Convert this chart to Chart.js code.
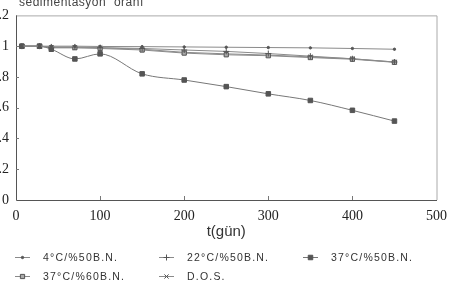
<!DOCTYPE html>
<html>
<head>
<meta charset="utf-8">
<script src="https://cdn.jsdelivr.net/npm/chart.js@4/dist/chart.umd.min.js"></script>
<style>
html, body { margin: 0; padding: 0; background: #fff; overflow: hidden; }
#wrap { position: absolute; left: -10px; top: 0; width: 465px; height: 285px; }
</style>
</head>
<body>
<div id="wrap"><canvas id="c" width="465" height="285"></canvas></div>
<script>
// days of measurement
var days = [7, 28, 42, 70, 100, 150, 200, 250, 300, 350, 400, 450];

// sedimentation ratio per sample
var c4_50  = [1.0, 1.0, 1.0, 1.0, 0.998, 0.997, 0.995, 0.993, 0.991, 0.989, 0.985, 0.98];
var c22_50 = [1.0, 1.0, 0.995, 0.995, 0.99, 0.985, 0.975, 0.966, 0.952, 0.935, 0.918, 0.897];
var c37_50 = [1.0, 1.0, 0.98, 0.917, 0.95, 0.82, 0.78, 0.737, 0.69, 0.647, 0.583, 0.513];
var c37_60 = [1.0, 1.0, 0.99, 0.99, 0.985, 0.975, 0.955, 0.944, 0.938, 0.926, 0.915, 0.895];
var dos    = [1.0, 1.0, 0.99, 0.99, 0.99, 0.98, 0.96, 0.95, 0.942, 0.93, 0.918, 0.897];

var yTicks = [0, 0.2, 0.4, 0.6, 0.8, 1, 1.2];
var xTicks = [0, 100, 200, 300, 400, 500];

function pts(vals) {
    return days.map(function(d, i) { return { x: d, y: vals[i] }; });
}

function series(label, vals, style) {
    return Object.assign({
        label: label,
        data: pts(vals),
        borderColor: '#8a8a8a',
        borderWidth: 1,
        backgroundColor: '#555',
        pointBorderColor: '#555',
        pointBorderWidth: 1,
        tension: 0
    }, style);
}

var datasets = [
    series('4°C/%50B.N.', c4_50, { pointStyle: 'circle', pointRadius: 1.2 }),
    series('22°C/%50B.N.', c22_50, { pointStyle: 'cross', pointRadius: 3 }),
    series('37°C/%50B.N.', c37_50, { pointStyle: 'rect', pointRadius: 3.2, borderColor: '#777',
        cubicInterpolationMode: 'monotone' }),
    series('37°C/%60B.N.', c37_60, { pointStyle: 'rect', pointRadius: 3, backgroundColor: '#aaa' }),
    series('D.O.S.', dos, { pointStyle: 'crossRot', pointRadius: 3 })
];

// frame, inward ticks, top label
var decor = {
    id: 'decor',
    beforeDatasetsDraw: function(chart) {
        var ctx = chart.ctx, a = chart.chartArea;
        var xs = chart.scales.x, ys = chart.scales.y;
        ctx.save();
        ctx.lineWidth = 1;
        ctx.strokeStyle = '#aaa';
        ctx.beginPath();
        ctx.moveTo(a.left, a.top + 0.5); ctx.lineTo(a.right + 0.5, a.top + 0.5);
        ctx.lineTo(a.right + 0.5, a.bottom);
        ctx.stroke();
        ctx.strokeStyle = '#555';
        ctx.beginPath();
        ctx.moveTo(a.left + 0.5, a.top); ctx.lineTo(a.left + 0.5, a.bottom + 0.5);
        ctx.lineTo(a.right + 0.5, a.bottom + 0.5);
        ctx.stroke();
        ctx.strokeStyle = '#777';
        ctx.beginPath();
        xTicks.slice(1, -1).forEach(function(v) {
            var px = Math.round(xs.getPixelForValue(v)) + 0.5;
            ctx.moveTo(px, a.bottom); ctx.lineTo(px, a.bottom - 4);
        });
        yTicks.slice(1, -1).forEach(function(v) {
            var py = Math.round(ys.getPixelForValue(v)) + 0.5;
            ctx.moveTo(a.left, py); ctx.lineTo(a.left + 3, py);
        });
        ctx.stroke();
        ctx.fillStyle = '#444';
        ctx.font = '12px "Liberation Sans", Arial, sans-serif';
        ctx.letterSpacing = '0.5px';
        ctx.textBaseline = 'alphabetic';
        ctx.fillText('sedimentasyon  oranı', 29, 6);
        ctx.restore();
    }
};

// legend laid out in three columns
var gridLegend = {
    id: 'gridLegend',
    afterDraw: function(chart) {
        var ctx = chart.ctx;
        var cols = [25, 169, 313];
        var rows = [257, 276];
        ctx.save();
        ctx.font = '10.5px "Liberation Sans", Arial, sans-serif';
        ctx.letterSpacing = '1.2px';
        ctx.textBaseline = 'middle';
        chart.data.datasets.forEach(function(ds, i) {
            var x = cols[i % 3], y = rows[Math.floor(i / 3)];
            ctx.strokeStyle = ds.borderColor;
            ctx.lineWidth = 1;
            ctx.beginPath();
            ctx.moveTo(x, y + 0.5); ctx.lineTo(x + 15, y + 0.5);
            ctx.stroke();
            ctx.fillStyle = ds.backgroundColor;
            ctx.strokeStyle = ds.pointBorderColor;
            Chart.helpers.drawPoint(ctx, {
                pointStyle: ds.pointStyle,
                radius: ds.pointRadius,
                borderWidth: 1,
                rotation: 0
            }, x + 7.5, y + 0.5);
            ctx.fillStyle = '#333';
            ctx.fillText(ds.label, x + 28, y + 1);
        });
        ctx.restore();
    }
};

new Chart(document.getElementById('c'), {
    type: 'line',
    data: { datasets: datasets },
    plugins: [decor, gridLegend],
    options: {
        responsive: false,
        animation: false,
        devicePixelRatio: 1,
        layout: { padding: { top: 11, right: 8, bottom: 40, left: 0 } },
        plugins: { legend: { display: false }, tooltip: { enabled: false } },
        scales: {
            x: {
                type: 'linear', min: 0, max: 500,
                afterBuildTicks: function(s) { s.ticks = xTicks.map(function(v) { return { value: v }; }); },
                afterFit: function(s) { s.height = 45; },
                grid: { display: false, drawTicks: false },
                border: { display: false },
                ticks: { color: '#222', padding: 8, maxRotation: 0,
                    font: { family: '"Liberation Serif", "Times New Roman", serif', size: 14 } },
                title: { display: true, text: 't(gün)', color: '#333', padding: { top: 0, bottom: 4 },
                    font: { family: '"Liberation Sans", Arial, sans-serif', size: 15 } }
            },
            y: {
                min: 0, max: 1.2,
                afterBuildTicks: function(s) { s.ticks = yTicks.map(function(v) { return { value: v }; }); },
                afterFit: function(s) { s.width = 26; },
                grid: { display: false, drawTicks: false },
                border: { display: false },
                ticks: { color: '#222', padding: 7,
                    font: { family: '"Liberation Serif", "Times New Roman", serif', size: 14 },
                    callback: function(v) {
                        if (v === 0 || v === 1) return String(v);
                        if (v > 1) return v.toFixed(1);
                        return v.toFixed(1).replace(/^0/, '');
                    } }
            }
        }
    }
});
</script>
</body>
</html>
